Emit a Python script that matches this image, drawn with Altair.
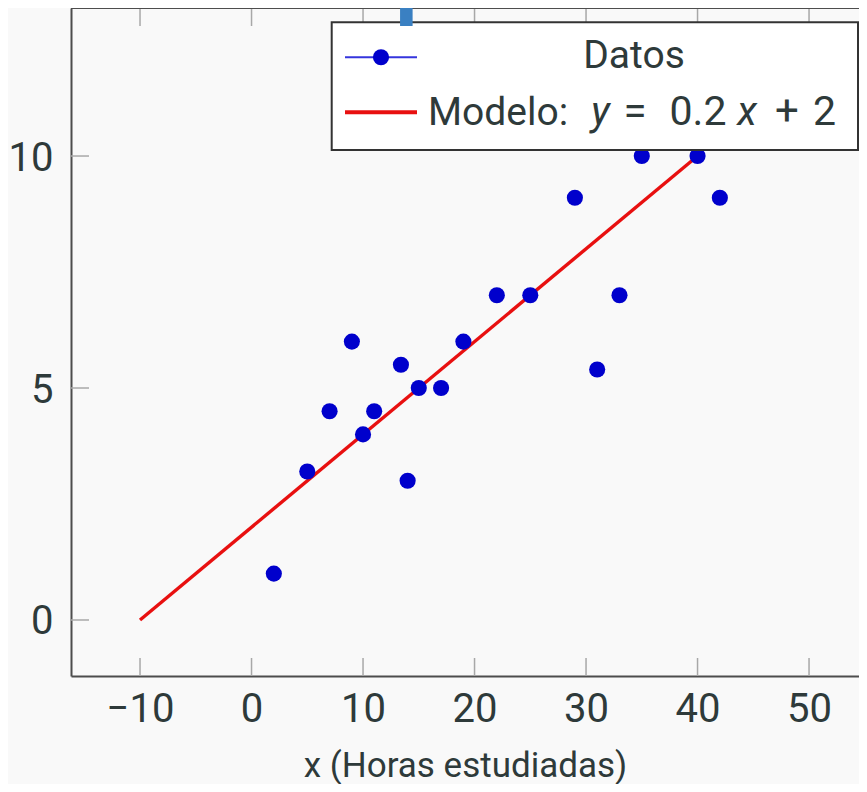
import altair as alt
import pandas as pd

# ---- data ----
data_x = [2, 5, 7, 9, 10, 11, 13.4, 14, 15, 17, 19, 22, 25, 29, 31, 33, 35, 40, 42]
data_y = [1, 3.2, 4.5, 6, 4, 4.5, 5.5, 3, 5, 5, 6, 7, 7, 9.1, 5.4, 7, 10, 10, 9.1]
model_x = [-10, 40]
model_y = [0, 10]
x_ticks = [-10, 0, 10, 20, 30, 40, 50]
y_ticks = [0, 5, 10]

pts = pd.DataFrame({"x": data_x, "y": data_y})
model = pd.DataFrame({"x": model_x, "y": model_y})
xt = pd.DataFrame({"x": x_ticks})
yt = pd.DataFrame({"y": y_ticks})
one = pd.DataFrame({"a": [0]})

W, H = 788, 668
FONT = "Roboto"
TXT = "#2e3a3a"
TICK = "#a8a8a8"
FRAME = "#4d4d4d"

xs = alt.Scale(domain=[-16.19, 54.48], nice=False, zero=False)
ys = alt.Scale(domain=[-1.207, 13.19], nice=False, zero=False)

xaxis = alt.Axis(values=x_ticks, ticks=False, tickSize=0, grid=False,
                 labelFontSize=40, labelFont=FONT, labelColor=TXT, labelPadding=13,
                 labelFlush=False, labelOverlap=False,
                 domainColor=FRAME, domainWidth=2,
                 title="x (Horas estudiadas)", titleFont=FONT, titleFontSize=35,
                 titleFontWeight="normal", titleColor=TXT,
                 titleBaseline="alphabetic", titleY=100)
yaxis = alt.Axis(values=y_ticks, ticks=False, tickSize=0, grid=False,
                 labelFontSize=40, labelFont=FONT, labelColor=TXT, labelPadding=18,
                 labelOffset=2, domainColor=FRAME, domainWidth=2, title=None)

line = alt.Chart(model).mark_line(color="#e81010", strokeWidth=3.4).encode(
    x=alt.X("x:Q", scale=xs, axis=xaxis),
    y=alt.Y("y:Q", scale=ys, axis=yaxis),
)
dots = alt.Chart(pts).mark_circle(color="#0000cc", opacity=1, size=260).encode(
    x=alt.X("x:Q", scale=xs), y=alt.Y("y:Q", scale=ys)
)

# inward ticks (pgfplots style)
bt = alt.Chart(xt).mark_rule(color=TICK, strokeWidth=1.5).encode(
    x=alt.X("x:Q", scale=xs), y=alt.value(H - 18), y2=alt.value(H))
tt = alt.Chart(xt).mark_rule(color=TICK, strokeWidth=1.5).encode(
    x=alt.X("x:Q", scale=xs), y=alt.value(0), y2=alt.value(18))
lt = alt.Chart(yt).mark_rule(color=TICK, strokeWidth=1.5).encode(
    y=alt.Y("y:Q", scale=ys), x=alt.value(0), x2=alt.value(18))
top_frame = alt.Chart(one).mark_rule(color=FRAME, strokeWidth=2).encode(
    x=alt.value(0), x2=alt.value(W), y=alt.value(0))

# legend box
box = alt.Chart(one).mark_rect(fill="white", stroke="#333333", strokeWidth=2).encode(
    x=alt.value(260.7), x2=alt.value(787), y=alt.value(14.3), y2=alt.value(142))
leg_bl = alt.Chart(one).mark_rule(color="#3535dd", strokeWidth=2).encode(
    x=alt.value(274), x2=alt.value(346), y=alt.value(49.3))
leg_bd = alt.Chart(one).mark_circle(color="#0000cc", opacity=1, size=260).encode(
    x=alt.value(310), y=alt.value(49.3))
leg_rl = alt.Chart(one).mark_rule(color="#e81010", strokeWidth=4).encode(
    x=alt.value(274), x2=alt.value(346), y=alt.value(104.3))

def txt(s, px, by, align="center", italic=False, size=39):
    return alt.Chart(one).mark_text(text=s, font=FONT, fontSize=size, color=TXT,
                                    align=align, baseline="alphabetic",
                                    fontStyle="italic" if italic else "normal").encode(
        x=alt.value(px), y=alt.value(by))

leg_texts = [
    txt("Datos", 563, 60),
    txt("Modelo:", 357, 117, "left"),
    txt("y", 529.5, 117, "center", True, 41),
    txt("=", 564, 117, "center", False, 42),
    txt("0.2", 627, 117, "center", False, 41),
    txt("x", 676, 117, "center", True, 41),
    txt("+", 716, 117, "center", False, 42),
    txt("2", 753.5, 117, "center", False, 41),
]

slide_title = alt.Chart(one).mark_text(text="Regresión lineal simple", font="Open Sans",
                                       fontSize=84, fontWeight="bold", color="#3a80c2",
                                       align="right", baseline="alphabetic").encode(
    x=alt.value(451), y=alt.value(-2))

chart = alt.layer(
    bt, tt, lt, line, dots, top_frame, box, leg_bl, leg_bd, leg_rl, *leg_texts, slide_title
).properties(
    width=W, height=H,
    autosize=alt.AutoSizeParams(type="none"),
    padding={"left": 63, "top": 0, "right": 0, "bottom": 108},
    background="#f9f9f9",
).configure_view(strokeOpacity=0, fill="#f9f9f9")

chart.save("out.html", embed_options={"renderer": "svg", "actions": False})
